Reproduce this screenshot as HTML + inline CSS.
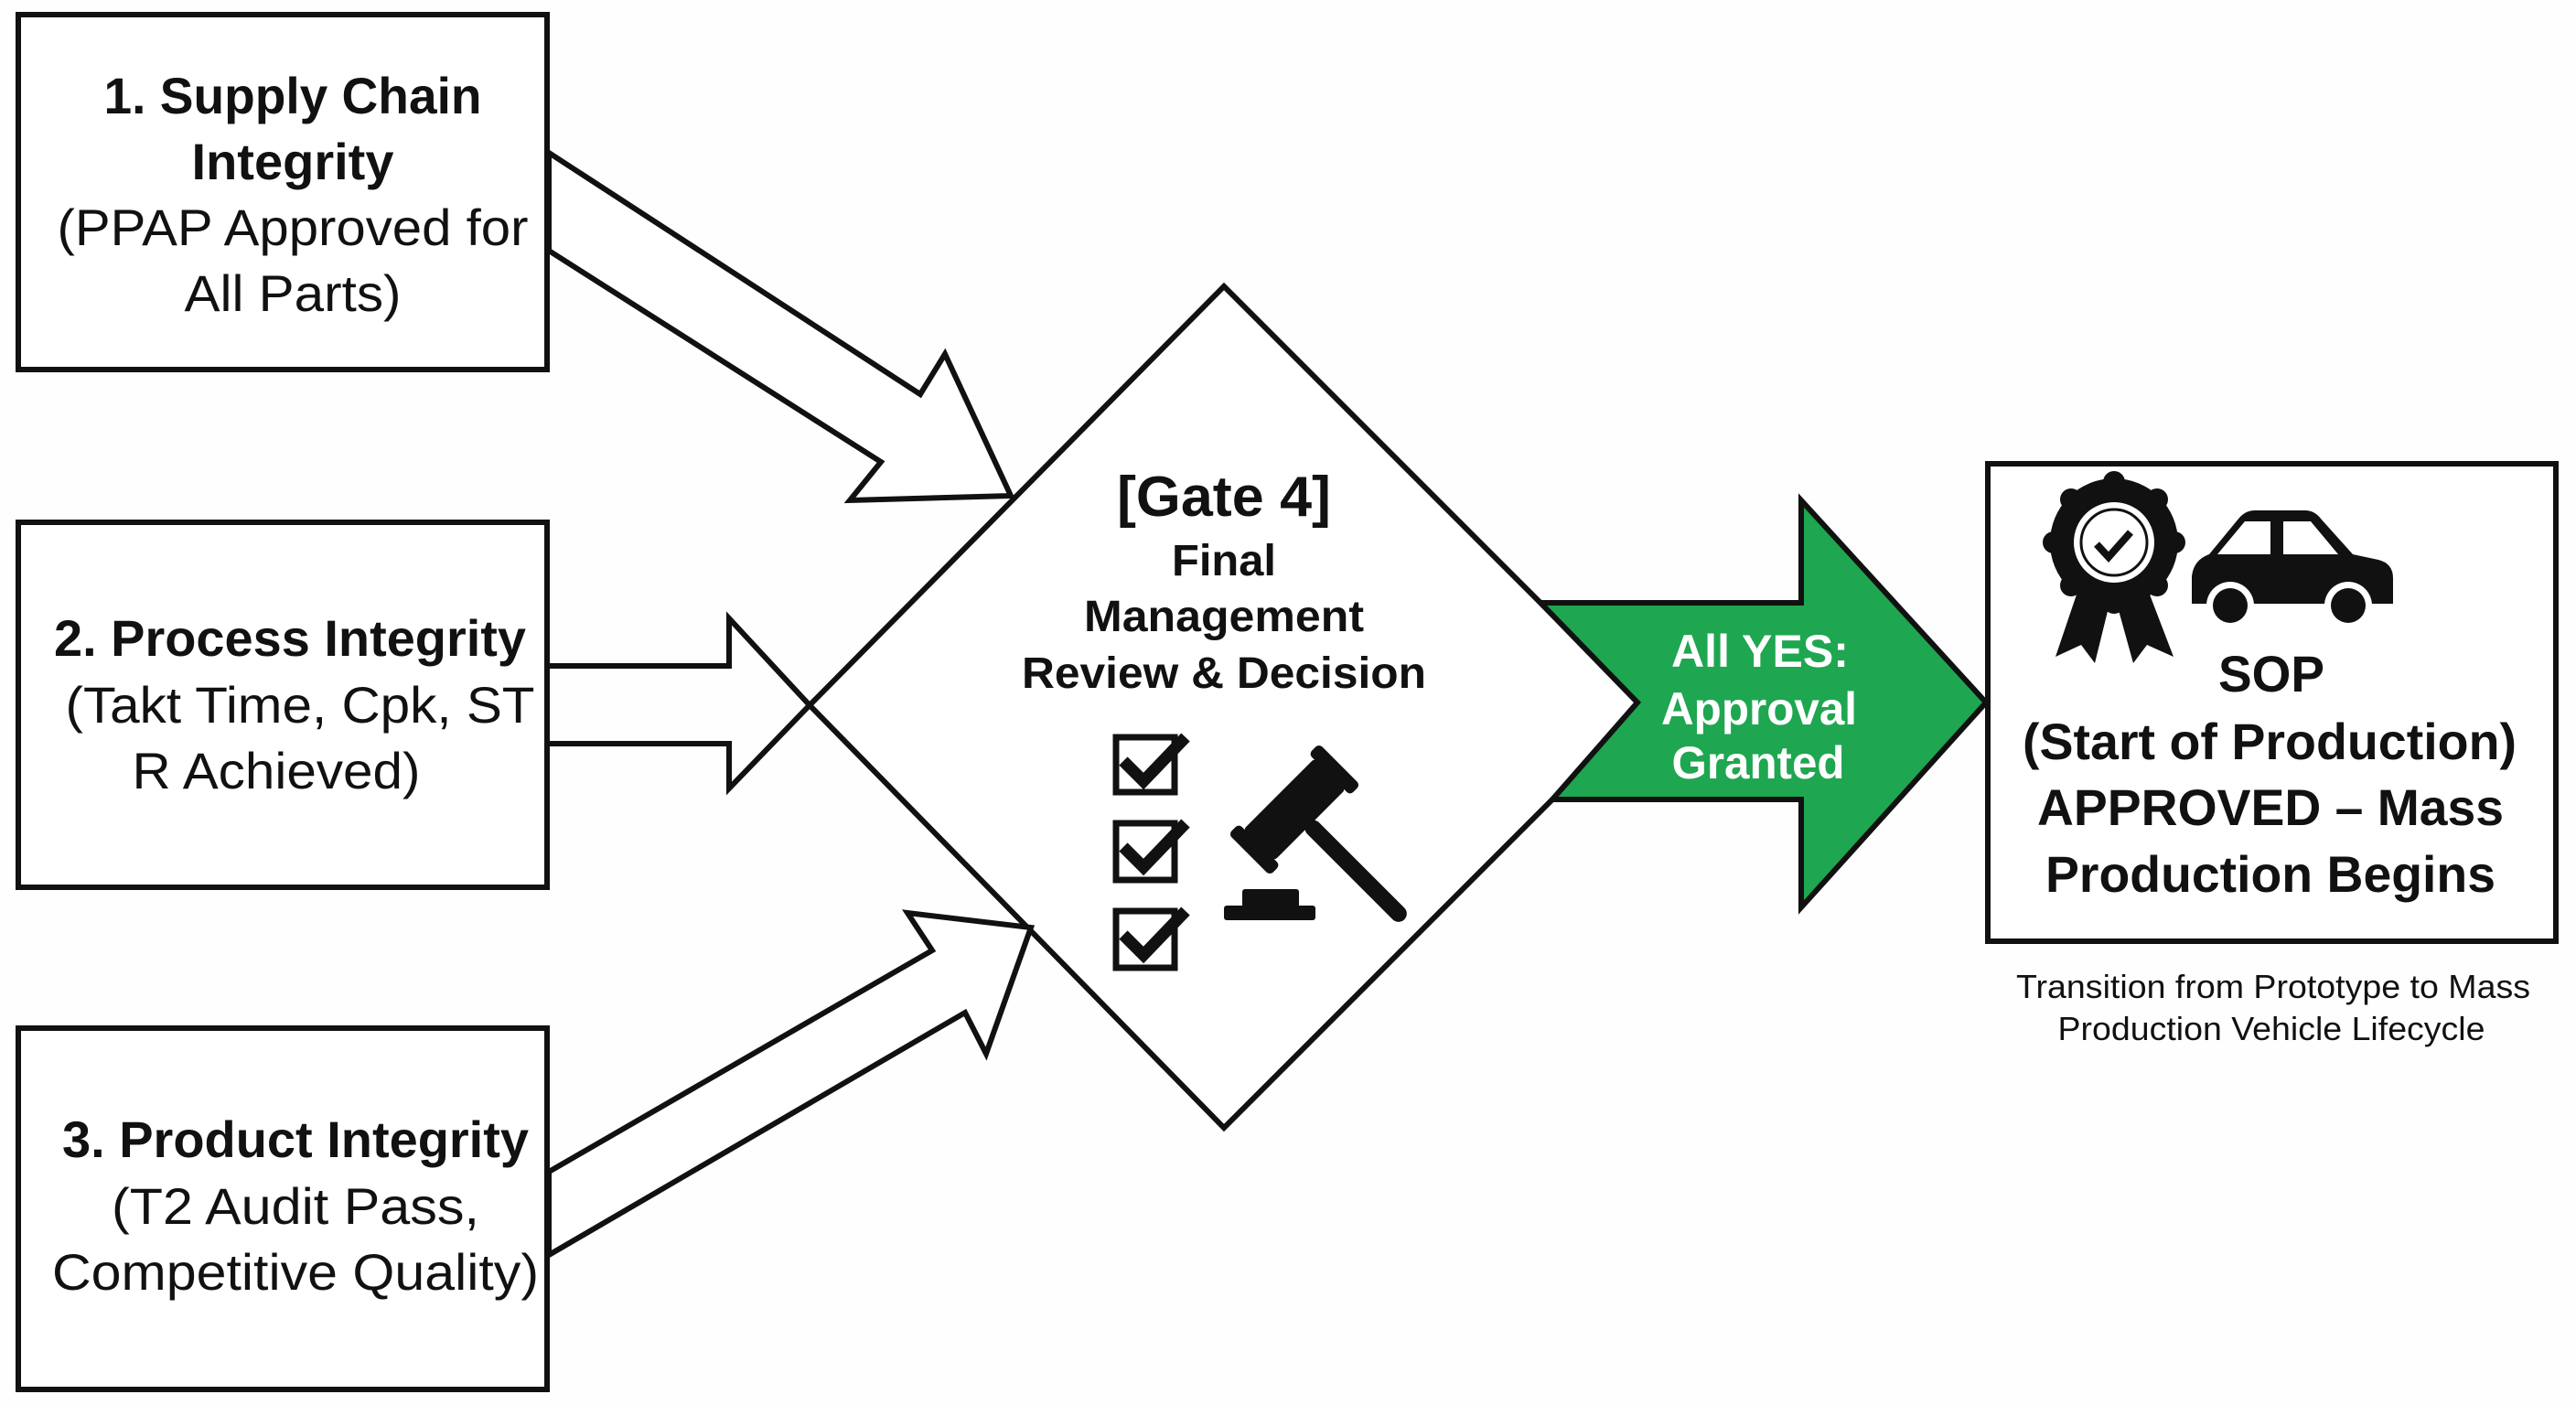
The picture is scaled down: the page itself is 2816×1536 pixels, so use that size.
<!DOCTYPE html>
<html><head><meta charset="utf-8"><style>
html,body{margin:0;padding:0;background:#fff}
svg{display:block}
text{font-family:"Liberation Sans",Arial,sans-serif}
</style></head><body>
<svg width="2816" height="1536" viewBox="0 0 2816 1536" xmlns="http://www.w3.org/2000/svg">
<rect width="2816" height="1536" fill="#fefefe"/>
<g fill="#fff" stroke="#111" stroke-width="6" stroke-linejoin="miter">
<rect x="20" y="16" width="578" height="388"/>
<rect x="20" y="571" width="578" height="399"/>
<rect x="20" y="1124" width="578" height="395"/>
<polygon points="1338,313 1798,773 1338,1233 885,771"/>
<polyline points="598,728 797,728 797,676 885,771 797,862 797,813 598,813" fill="none"/>
<polygon points="600,167 1006,431 1033,387 1105,542 929,547 963,505 600,274"/>
<polygon points="600,1281 1019,1039 992,998 1127,1014 1078,1152 1055,1107 600,1372"/>
<rect x="2173" y="507" width="621" height="522"/>
</g>
<polygon points="1684,659 1969,659 1969,547 2171,768 1969,992 1969,874 1697,874 1790,768" fill="#1fa650" stroke="#111" stroke-width="6"/>
<g font-weight="bold" fill="#111" text-anchor="middle">
<text x="320" y="124" font-size="56" textLength="413" lengthAdjust="spacingAndGlyphs">1. Supply Chain</text>
<text x="320" y="196" font-size="56" textLength="221" lengthAdjust="spacingAndGlyphs">Integrity</text>
<text x="317" y="717" font-size="56" textLength="516" lengthAdjust="spacingAndGlyphs">2. Process Integrity</text>
<text x="323" y="1265" font-size="56" textLength="510" lengthAdjust="spacingAndGlyphs">3. Product Integrity</text>
<text x="1338" y="564" font-size="62" textLength="234" lengthAdjust="spacingAndGlyphs">[Gate 4]</text>
<text x="1338" y="629" font-size="48" textLength="114" lengthAdjust="spacingAndGlyphs">Final</text>
<text x="1338" y="690" font-size="48" textLength="306" lengthAdjust="spacingAndGlyphs">Management</text>
<text x="1338" y="752" font-size="48" textLength="442" lengthAdjust="spacingAndGlyphs">Review &amp; Decision</text>
<text x="2483" y="756" font-size="56" textLength="116" lengthAdjust="spacingAndGlyphs">SOP</text>
<text x="2481" y="830" font-size="56" textLength="540" lengthAdjust="spacingAndGlyphs">(Start of Production)</text>
<text x="2482" y="902" font-size="56" textLength="510" lengthAdjust="spacingAndGlyphs">APPROVED – Mass</text>
<text x="2482" y="975" font-size="56" textLength="492" lengthAdjust="spacingAndGlyphs">Production Begins</text>
<g fill="#fff">
<text x="1924" y="729" font-size="50" textLength="194" lengthAdjust="spacingAndGlyphs">All YES:</text>
<text x="1923" y="792" font-size="50" textLength="214" lengthAdjust="spacingAndGlyphs">Approval</text>
<text x="1922" y="851" font-size="50" textLength="189" lengthAdjust="spacingAndGlyphs">Granted</text>
</g>
</g>
<g fill="#111" text-anchor="middle">
<text x="320" y="268" font-size="56" textLength="515" lengthAdjust="spacingAndGlyphs">(PPAP Approved for</text>
<text x="320" y="340" font-size="56" textLength="237" lengthAdjust="spacingAndGlyphs">All Parts)</text>
<text x="328" y="790" font-size="56" textLength="513" lengthAdjust="spacingAndGlyphs">(Takt Time, Cpk, ST</text>
<text x="302" y="862" font-size="56" textLength="315" lengthAdjust="spacingAndGlyphs">R Achieved)</text>
<text x="323" y="1338" font-size="56" textLength="402" lengthAdjust="spacingAndGlyphs">(T2 Audit Pass,</text>
<text x="323" y="1410" font-size="56" textLength="532" lengthAdjust="spacingAndGlyphs">Competitive Quality)</text>
<text x="2485" y="1091" font-size="36" textLength="562" lengthAdjust="spacingAndGlyphs">Transition from Prototype to Mass</text>
<text x="2483" y="1137" font-size="36" textLength="467" lengthAdjust="spacingAndGlyphs">Production Vehicle Lifecycle</text>
</g>
<g fill="none" stroke="#111">
<rect x="1220" y="806" width="64" height="60" stroke-width="7"/>
<rect x="1220" y="900" width="64" height="62" stroke-width="7"/>
<rect x="1220" y="996" width="64" height="62" stroke-width="7"/>
<polyline points="1228,832 1250,854 1296,806" stroke-width="13"/>
<polyline points="1228,926 1250,948 1296,900" stroke-width="13"/>
<polyline points="1228,1022 1250,1044 1296,996" stroke-width="13"/>
</g>
<g fill="#111">
<rect x="1338" y="990" width="100" height="16" rx="3"/>
<rect x="1358" y="972" width="62" height="20" rx="3"/>
<g transform="translate(1415,885) rotate(-45)">
<rect x="-55" y="-24" width="110" height="48" rx="4"/>
<rect x="-70" y="-32" width="16" height="64" rx="5"/>
<rect x="54" y="-32" width="16" height="64" rx="5"/>
<rect x="-9" y="20" width="18" height="150" rx="9"/>
</g>
</g>
<g fill="#111">
<polygon points="2270,650 2247,718 2275,705 2290,725 2306,660"/>
<polygon points="2350,650 2376,718 2347,705 2332,725 2314,660"/>
<circle cx="2311" cy="593" r="70"/>
<g transform="translate(2311,593)">
<circle r="12" cx="0" cy="-66"/><circle r="12" cx="47" cy="-47"/><circle r="12" cx="66" cy="0"/><circle r="12" cx="47" cy="47"/><circle r="12" cx="0" cy="66"/><circle r="12" cx="-47" cy="47"/><circle r="12" cx="-66" cy="0"/><circle r="12" cx="-47" cy="-47"/>
</g>
<circle cx="2311" cy="593" r="44" fill="#fff"/>
<circle cx="2311" cy="593" r="36" fill="none" stroke="#111" stroke-width="3"/>
<polyline points="2292,595 2305,609 2329,582" fill="none" stroke="#111" stroke-width="8"/>
</g>
<g fill="#111">
<path d="M2396,660 L2396,630 Q2398,612 2415,606 L2448,566 Q2455,558 2465,558 L2520,558 Q2530,558 2537,567 L2572,606 L2600,612 Q2616,616 2616,632 L2616,660 Z"/>
<polygon points="2424,606 2454,570 2482,570 2482,606" fill="#fff"/>
<polygon points="2496,570 2526,570 2556,606 2496,606" fill="#fff"/>
<circle cx="2438" cy="662" r="26" fill="#fff"/><circle cx="2438" cy="662" r="19"/>
<circle cx="2567" cy="662" r="26" fill="#fff"/><circle cx="2567" cy="662" r="19"/>
</g>
</svg>
</body></html>
